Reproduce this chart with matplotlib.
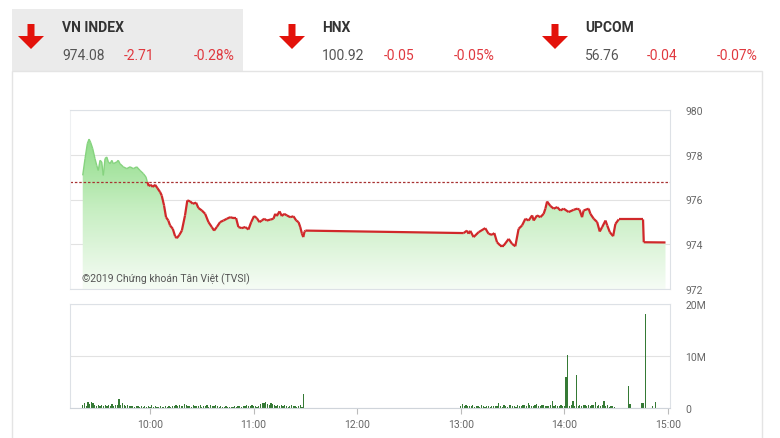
import numpy as np
import pandas as pd
import matplotlib
matplotlib.use("Agg")
import matplotlib.pyplot as plt
from matplotlib.colors import LinearSegmentedColormap
from matplotlib.collections import LineCollection
from matplotlib.patches import Rectangle, FancyArrow

# header quotes
idx_names = ["VN INDEX", "HNX", "UPCOM"]
idx_values = ["974.08", "100.92", "56.76"]
idx_changes = ["-2.71", "-0.05", "-0.04"]
idx_pcts = ["-0.28%", "-0.05%", "-0.07%"]

ref_price = 976.79

# intraday VN-Index
times = [
    "09:21:00", "09:22:20", "09:23:40", "09:24:40", "09:25:35", "09:26:45", "09:28:05", "09:29:05",
    "09:30:00", "09:31:00", "09:32:00", "09:32:55", "09:33:55", "09:34:55", "09:35:50", "09:36:50",
    "09:37:50", "09:38:45", "09:40:40", "09:41:35", "09:42:35", "09:44:30", "09:46:30", "09:48:25",
    "09:50:20", "09:52:15", "09:54:10", "09:56:05", "09:57:40", "09:58:25", "09:59:15", "10:00:25",
    "10:01:35", "10:02:55", "10:04:15", "10:05:50", "10:06:45", "10:08:05", "10:09:15", "10:10:35",
    "10:11:35", "10:13:10", "10:14:30", "10:15:30", "10:17:00", "10:18:25", "10:20:15", "10:21:35",
    "10:23:10", "10:24:45", "10:26:40", "10:28:00", "10:30:00", "10:31:55", "10:33:50", "10:35:45",
    "10:37:05", "10:38:40", "10:40:35", "10:42:30", "10:44:30", "10:46:25", "10:48:15", "10:49:50",
    "10:51:10", "10:53:10", "10:55:05", "10:57:00", "10:58:35", "11:00:15", "11:01:50", "11:03:20",
    "11:04:45", "11:06:05", "11:07:40", "11:09:35", "11:11:30", "11:12:30", "11:13:25", "11:15:00",
    "11:16:20", "11:17:40", "11:19:15", "11:21:10", "11:23:05", "11:24:40", "11:26:00", "11:27:00",
    "11:28:00", "11:28:45", "11:29:30", "11:30:00",
    "13:01:40", "13:03:35", "13:04:30", "13:05:30", "13:07:25", "13:10:20", "13:14:10", "13:16:05",
    "13:18:05", "13:19:25", "13:21:00", "13:22:55", "13:24:50", "13:27:45", "13:29:40", "13:31:35",
    "13:33:30", "13:35:30", "13:37:25", "13:39:20", "13:41:20", "13:42:15", "13:44:10", "13:46:05",
    "13:48:00", "13:49:00", "13:50:00", "13:51:55", "13:53:50", "13:55:50", "13:57:40", "13:59:35",
    "14:02:30", "14:05:25", "14:07:25", "14:08:45", "14:10:15", "14:11:10", "14:14:05", "14:15:05",
    "14:17:00", "14:19:00", "14:20:30", "14:21:55", "14:23:50", "14:24:50", "14:26:20", "14:28:15",
    "14:29:35", "14:31:30", "14:45:35", "14:46:00", "14:58:35",
]
prices = [
    977.08, 977.83, 978.50, 978.70, 978.55, 978.28, 977.83, 977.53,
    977.30, 977.75, 977.68, 977.08, 977.83, 977.90, 977.68, 977.60,
    977.75, 977.60, 977.68, 977.75, 977.60, 977.46, 977.38, 977.46,
    977.38, 977.46, 977.30, 977.16, 977.00, 976.78, 976.60, 976.66,
    976.56, 976.66, 976.51, 976.33, 976.18, 975.74, 975.21, 975.06,
    974.84, 974.69, 974.36, 974.27, 974.42, 974.61, 975.29, 975.96,
    975.92, 975.81, 975.86, 975.62, 975.51, 975.36, 974.99, 974.77,
    974.61, 974.77, 974.99, 975.06, 975.14, 975.21, 975.17, 975.17,
    974.77, 974.72, 974.77, 974.66, 974.99, 975.26, 975.17, 974.99,
    975.06, 975.14, 975.06, 975.10, 975.14, 975.36, 975.26, 975.47,
    975.26, 975.36, 975.29, 975.21, 975.25, 975.06, 974.99, 974.77,
    974.47, 974.32, 974.57, 974.61,
    974.50, 974.61, 974.47, 974.60, 974.32, 974.54, 974.72, 974.47,
    974.42, 974.50, 974.09, 973.94, 973.94, 974.24, 974.02, 973.91,
    974.69, 974.84, 975.14, 975.06, 975.29, 975.06, 975.29, 975.21,
    975.36, 975.59, 975.91, 975.71, 975.59, 975.66, 975.51, 975.59,
    975.44, 975.54, 975.59, 975.55, 975.21, 975.51, 975.59, 975.36,
    975.14, 974.99, 974.57, 974.77, 975.06, 974.84, 974.54, 974.36,
    974.91, 975.11, 975.11, 974.09, 974.08,
]

# matched volume per minute (millions of shares)
vol_am_start = "09:21:00"
vol_am = [
    0.5, 0.9, 0.4, 1.1, 0.7, 1.2, 0.9, 0.5, 0.4, 0.6,
    0.3, 0.5, 0.4, 0.6, 0.3, 0.5, 0.4, 0.7, 0.3, 0.5,
    0.6, 1.7, 0.5, 0.9, 0.6, 0.4, 0.5, 0.3, 0.4, 0.3,
    0.2, 0.3, 0.4, 0.2, 0.3, 0.2, 0.4, 0.2, 0.3, 0.2,
    0.5, 0.2, 0.3, 0.2, 0.1, 0.3, 0.2, 0.2, 0.3, 0.2,
    0.3, 0.2, 0.4, 0.3, 0.5, 0.3, 0.6, 0.4, 0.3, 0.7,
    0.5, 0.3, 0.4, 0.2, 0.6, 0.3, 0.4, 0.3, 0.5, 0.2,
    0.4, 0.3, 0.6, 0.2, 0.5, 0.3, 0.4, 0.6, 0.3, 0.2,
    0.3, 0.2, 0.2, 0.3, 0.2, 0.1, 0.2, 0.2, 0.3, 0.2,
    0.4, 0.3, 0.2, 0.4, 0.3, 0.5, 0.4, 0.3, 0.5, 0.4,
    0.3, 0.2, 0.4, 0.8, 1.0, 0.9, 1.1, 0.7, 0.6, 0.9,
    0.8, 0.5, 0.4, 0.6, 0.3, 0.5, 0.4, 0.6, 0.3, 0.2,
    0.4, 0.6, 0.3, 0.4, 0.2, 0.3, 0.5, 0.2, 2.6,
]
vol_pm_start = "13:00:00"
vol_pm = [
    0.4, 0.8, 0.4, 0.6, 0.3, 0.4, 0.3, 0.5, 0.2, 0.3,
    0.4, 0.2, 0.5, 0.3, 0.2, 0.4, 0.3, 0.2, 0.3, 0.4,
    0.3, 0.4, 0.9, 0.3, 0.2, 0.5, 0.3, 0.2, 0.6, 0.5,
    0.4, 0.3, 0.2, 0.5, 0.4, 0.3, 0.5, 0.5, 0.3, 0.9,
    0.6, 0.4, 0.3, 0.5, 0.7, 0.4, 0.3, 0.6, 0.5, 0.4,
    0.4, 0.3, 0.5, 1.3, 0.3, 0.6, 0.4, 0.3, 0.5, 0.4,
    0.3, 5.9, 10.2, 0.4, 0.6, 1.4, 0.4, 6.4, 0.3, 0.5,
    0.4, 0.6, 0.5, 0.3, 0.5, 0.4, 0.6, 0.5, 1.2, 0.4,
    0.5, 0.3, 0.6, 1.3, 0.3, 0.5, 0.2, 0.4, 0.3, 0.2,
]
vol_late_times = ["14:37:00", "14:38:00", "14:44:30", "14:45:30", "14:47:00", "14:51:00", "14:53:00"]
vol_late = [4.2, 0.8, 1.0, 1.0, 18.0, 0.3, 1.2]

price_ticks = [972, 974, 976, 978, 980]
vol_ticks = [0, 10, 20]
vol_tick_labels = ["0", "10M", "20M"]
hour_ticks = [10, 11, 12, 13, 14, 15]
hour_labels = ["10:00", "11:00", "12:00", "13:00", "14:00", "15:00"]
copyright_text = "©2019 Chứng khoán Tân Việt (TVSI)"


def to_hours(t):
    return pd.to_timedelta(pd.Series(t)).dt.total_seconds().to_numpy() / 3600


x = to_hours(times)
y = np.array(prices)
x_am = to_hours([vol_am_start])[0] + np.arange(len(vol_am)) / 60
x_pm = to_hours([vol_pm_start])[0] + np.arange(len(vol_pm)) / 60
x_late = to_hours(vol_late_times)

W, H = 780, 439
fig = plt.figure(figsize=(W / 100, H / 100), dpi=100)
plt.rcParams['font.family'] = ['Roboto', 'DejaVu Sans']
head_font = ['Roboto', 'DejaVu Sans']

# background layer in pixel coordinates
bg = fig.add_axes([0, 0, 1, 1], zorder=-5)
bg.set_xlim(0, W)
bg.set_ylim(H, 0)
bg.axis("off")
bg.add_patch(Rectangle((12, 10), 231, 62, facecolor="#ebebeb", edgecolor="none"))
bg.add_patch(Rectangle((12, 72), 750, 380, facecolor="white", edgecolor="#e4e4e4", lw=1))

red = "#e0383e"
for i, x0 in enumerate([31, 292, 555]):
    bg.add_patch(FancyArrow(x0, 25, 0, 25, width=7, head_width=26, head_length=13,
                            length_includes_head=True, color="#e3120b", lw=0))
    tx = [62, 322, 585][i]
    bg.text(tx, 28, idx_names[i], fontsize=10, fontweight="bold", color="#333333",
            va="center", family=head_font)
    bg.text(tx, 56, idx_values[i], fontsize=10, color="#555555", va="center", family=head_font)
    bg.text(tx + 62, 56, idx_changes[i], fontsize=10, color=red, va="center", family=head_font)
    bg.text(tx + 173, 56, idx_pcts[i], fontsize=10, color=red, va="center", ha="right",
            family=head_font)

frame_c = "#dde1e6"
grid_c = "#e2e2e2"
label_c = "#666666"
xmin, xmax = 9.227, 15.02

# price panel
ax = fig.add_axes([70 / W, 1 - 290 / H, 600 / W, 179 / H])
ax.set_xlim(xmin, xmax)
ax.set_ylim(972, 980)

base = ax.fill_between(x, y, 972, color="none", lw=0)
cmap = LinearSegmentedColormap.from_list("g", ["#f6fcf5", "#c6eec1", "#86d97f"])
grad = np.linspace(0, 1, 256).reshape(-1, 1)
im = ax.imshow(grad, extent=[xmin, xmax, 972, 979.2], origin="lower", aspect="auto",
               cmap=cmap, zorder=1)
im.set_clip_path(base.get_paths()[0], transform=ax.transData)
ax.set_ylim(972, 980)

segs = np.stack([np.column_stack([x[:-1], y[:-1]]), np.column_stack([x[1:], y[1:]])], axis=1)
above = (y[:-1] + y[1:]) / 2 > ref_price
seg_colors = np.where(above, "#86d37f", "#d0282a")
seg_widths = np.where(above, 1.0, 1.6)
ax.add_collection(LineCollection(segs, colors=seg_colors, linewidths=seg_widths, zorder=3))
ax.axhline(ref_price, color="#a83232", lw=0.9, ls=(0, (2, 1.5)), zorder=2)

ax.set_yticks(price_ticks)
ax.yaxis.tick_right()
ax.tick_params(axis="y", length=0, pad=11, labelsize=7.5, labelcolor=label_c)
ax.set_xticks([])
ax.grid(axis="y", color=grid_c, lw=0.8)
ax.set_axisbelow(True)
for s in ax.spines.values():
    s.set_color(frame_c)
    s.set_linewidth(0.8)
ax.spines["left"].set_color("#eef0f2")
ax.text(0.02, 0.045, copyright_text, transform=ax.transAxes, fontsize=7.5, color="#555555",
        zorder=5)

# volume panel
axv = fig.add_axes([70 / W, 1 - 409 / H, 600 / W, 104 / H])
axv.set_xlim(xmin, xmax)
axv.set_ylim(0, 20)
bar_c = "#357a35"
axv.bar(x_am, vol_am, width=0.7 / 60, color=bar_c, lw=0, align="center")
axv.bar(x_pm, vol_pm, width=0.7 / 60, color=bar_c, lw=0, align="center")
axv.bar(x_late, vol_late, width=0.7 / 60, color=bar_c, lw=0, align="center")
axv.set_yticks(vol_ticks)
axv.set_yticklabels(vol_tick_labels)
axv.yaxis.tick_right()
axv.tick_params(axis="y", length=0, pad=11, labelsize=7.5, labelcolor=label_c)
axv.set_xticks(hour_ticks)
axv.set_xticklabels(hour_labels)
axv.tick_params(axis="x", length=4, color="#bbbbbb", labelsize=7.5, labelcolor=label_c, pad=4)
axv.grid(axis="y", color=grid_c, lw=0.8)
axv.set_axisbelow(True)
for s in axv.spines.values():
    s.set_color(frame_c)
    s.set_linewidth(0.8)
axv.spines["bottom"].set_color("#cfd4da")

fig.savefig("out.png", dpi=100)
